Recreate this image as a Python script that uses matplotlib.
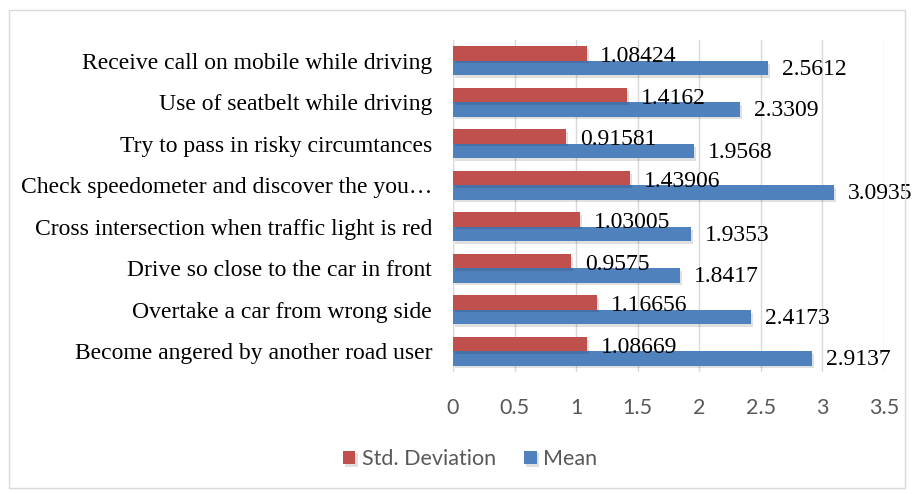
import matplotlib
matplotlib.use("Agg")
import matplotlib.pyplot as plt
import matplotlib.patheffects as pe
from matplotlib.patches import Rectangle
import numpy as np

categories = [
    "Become angered by another road user",
    "Overtake a car from wrong side",
    "Drive so close to the car in front",
    "Cross intersection when traffic light is red",
    "Check speedometer and discover the you\u2026",
    "Try to pass in risky circumtances",
    "Use of seatbelt while driving",
    "Receive call on mobile while driving",
]
std_dev = [1.08669, 1.16656, 0.9575, 1.03005, 1.43906, 0.91581, 1.4162, 1.08424]
std_labels = ["1.08669", "1.16656", "0.9575", "1.03005", "1.43906", "0.91581", "1.4162", "1.08424"]
mean = [2.9137, 2.4173, 1.8417, 1.9353, 3.0935, 1.9568, 2.3309, 2.5612]
mean_labels = ["2.9137", "2.4173", "1.8417", "1.9353", "3.0935", "1.9568", "2.3309", "2.5612"]
xticks = [0, 0.5, 1, 1.5, 2, 2.5, 3, 3.5]
xtick_labels = ["0", "0.5", "1", "1.5", "2", "2.5", "3", "3.5"]

red = "#C0504D"
blue = "#4F81BD"

fig = plt.figure(figsize=(9.14, 4.94), dpi=100)
fig.patches.append(Rectangle((9/914, 6/494), 896/914, 478/494, transform=fig.transFigure,
                             fill=False, edgecolor="#D9D9D9", linewidth=1.0))
ax = fig.add_axes([453/914, 1 - 372/494, 431/914, 332/494])

y = np.arange(len(categories))
h = 0.34
shadow = [pe.SimplePatchShadow(offset=(1.5, -2), shadow_rgbFace="#000000", alpha=0.12), pe.Normal()]
bm = ax.barh(y - 0.175, mean, height=h, color=blue, label="Mean", zorder=3)
bs = ax.barh(y + 0.175, std_dev, height=h, color=red, label="Std. Deviation", zorder=3)
for b in list(bm) + list(bs):
    b.set_path_effects(shadow)

serif = ["Liberation Serif", "DejaVu Serif"]
for i in range(len(categories)):
    ax.annotate(std_labels[i], (std_dev[i], y[i] + 0.1), xytext=(10, 0), textcoords="offset points",
                va="center", ha="left", fontsize=17, family=serif, color="black", zorder=5)
    ax.annotate(mean_labels[i], (mean[i], y[i] - 0.2), xytext=(10, 0), textcoords="offset points",
                va="center", ha="left", fontsize=17, family=serif, color="black", zorder=5)

ax.set_xlim(0, 3.5)
ax.set_ylim(-0.5, len(categories) - 0.5)
ax.set_xticks(xticks)
ax.set_xticklabels(xtick_labels, family=["Lato", "DejaVu Sans"], fontsize=15.5, color="#595959")
ax.set_yticks(y)
ax.set_yticklabels(categories, family=serif, fontsize=17, color="black")
ax.tick_params(axis="both", length=0)
ax.tick_params(axis="x", pad=19)
ax.tick_params(axis="y", pad=15)
ax.grid(axis="x", color="#D9D9D9", linewidth=1.0, zorder=0)
for s in ax.spines.values():
    s.set_visible(False)
ax.axvline(0, color="#D9D9D9", linewidth=1.0, zorder=1)

handles, labels = ax.get_legend_handles_labels()
handles = [handles[1], handles[0]]
labels = [labels[1], labels[0]]
fig.legend(handles, labels, loc="center", bbox_to_anchor=(470/914, 1 - 459/494), ncol=2,
           frameon=False, prop={"family": ["Lato", "DejaVu Sans"], "size": 15.5},
           handlelength=0.6, handleheight=0.6, columnspacing=1.3, handletextpad=0.3,
           labelcolor="#595959")

fig.savefig("out.png", dpi=100)
